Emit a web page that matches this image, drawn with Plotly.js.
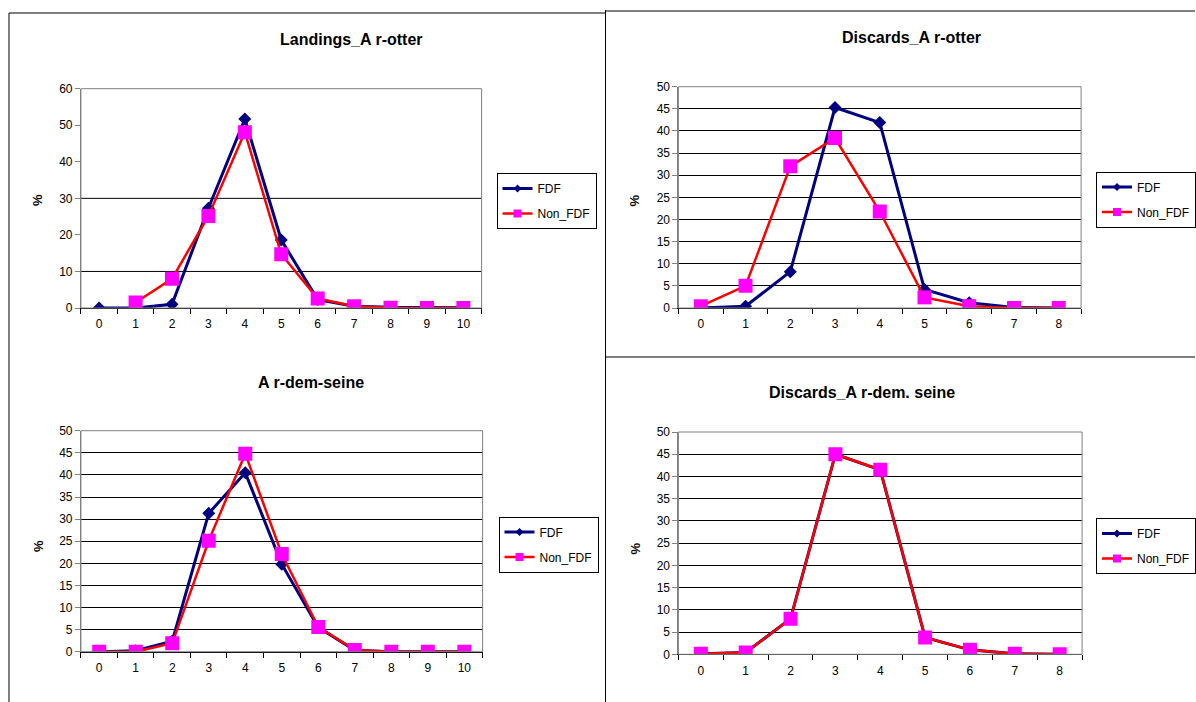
<!DOCTYPE html>
<html>
<head>
<meta charset="utf-8">
<script src="https://cdn.plot.ly/plotly-3.0.1.min.js"></script>
<style>html,body{margin:0;padding:0;background:#fff;}#chart{width:1196px;height:702px;}</style>
</head>
<body>
<div id="chart"></div>
<script>
// ---- data ----
const ages10 = ['0','1','2','3','4','5','6','7','8','9','10'];
const ages8 = ['0','1','2','3','4','5','6','7','8'];
const seriesNames = ['FDF', 'Non_FDF'];
const titles = ['Landings_A r-otter', 'Discards_A r-otter', 'A r-dem-seine', 'Discards_A r-dem. seine'];

const landOtterFDF = [0, 0, 1, 27.3, 51.7, 18.6, 2.3, 0.5, 0.2, 0.1, 0.1];
const landOtterNon = [null, 1.5, 8.0, 25.2, 48.1, 14.7, 2.6, 0.5, 0.1, 0, 0];
const discOtterFDF = [0, 0.4, 8.2, 45.3, 41.9, 4.2, 1.2, 0.1, 0];
const discOtterNon = [0.4, 5.0, 32.0, 38.4, 21.8, 2.4, 0.4, 0, 0];
const seineFDF = [0, 0.2, 2.4, 31.3, 40.5, 19.8, 5.5, 0.3, 0, 0, 0];
const seineNon = [0, 0, 1.9, 25.1, 44.8, 22.1, 5.6, 0.4, 0, 0, 0];
const discSeineFDF = [0.1, 0.4, 8.0, 45.0, 41.5, 3.8, 1.0, 0.1, 0];
const discSeineNon = [0.1, 0.4, 8.0, 45.0, 41.5, 3.8, 1.0, 0.1, 0];

const yMax = [60, 50, 50, 50];
const yStep = [10, 5, 5, 5];
const landGrid = [10, 30]; // only gridlines visible in the landings panel

// ---- layout helpers (pixel geometry) ----
const W = 1196, H = 702;
const px = v => v / W;
const py = v => 1 - v / H;

const panels = [
  {cats: ages10, fdf: landOtterFDF, non: landOtterNon, L: 81, R: 482, T: 88.7, B: 308,
   title: [352, 40], pct: [38, 200], leg: [496.5, 173]},
  {cats: ages8, fdf: discOtterFDF, non: discOtterNon, L: 679, R: 1082, T: 86.7, B: 308,
   title: [912, 37.5], pct: [636, 200], leg: [1097, 171.5]},
  {cats: ages10, fdf: seineFDF, non: seineNon, L: 81, R: 483, T: 430.7, B: 651.7,
   title: [311, 382.5], pct: [38, 546], leg: [498.5, 516.5]},
  {cats: ages8, fdf: discSeineFDF, non: discSeineNon, L: 679, R: 1083, T: 432, B: 654.3,
   title: [863, 392.5], pct: [636, 548], leg: [1097, 518]}
];

const FONT = 'Liberation Sans, Arial, sans-serif';
const STY = [
  {line: {color: '#000080', width: 3}, marker: {symbol: 'diamond', size: 10, color: '#000080'}, legMarker: 6},
  {line: {color: '#FF0000', width: 2.5}, marker: {symbol: 'square', size: 14, color: '#FF00FF'}, legMarker: 8}
];
const traces = [];
const layout = {
  width: W, height: H,
  margin: {l: 0, r: 0, t: 0, b: 0},
  paper_bgcolor: '#fff', plot_bgcolor: '#fff',
  font: {family: FONT, size: 12, color: '#000'},
  showlegend: true,
  annotations: [], shapes: []
};

panels.forEach((p, i) => {
  const n = i + 1;
  const xa = n === 1 ? 'x' : 'x' + n;
  const ya = n === 1 ? 'y' : 'y' + n;
  const legName = n === 1 ? 'legend' : 'legend' + n;
  [p.fdf, p.non].forEach((vals, s) => {
    traces.push({
      type: 'scatter', mode: 'lines+markers', name: seriesNames[s],
      x: p.cats, y: vals, xaxis: xa, yaxis: ya, showlegend: false,
      line: STY[s].line, marker: STY[s].marker,
      connectgaps: false, hoverinfo: 'x+y+name'
    });
  });
  // legend entries (smaller legend symbols, as in the original)
  [0, 1].forEach(s => {
    traces.push({
      type: 'scatter', mode: 'lines+markers', name: seriesNames[s],
      x: [null], y: [null], xaxis: xa, yaxis: ya, legend: legName, legendgroup: 'g' + s + '_' + n,
      showlegend: true, line: STY[s].line,
      marker: {symbol: STY[s].marker.symbol, size: STY[s].legMarker, color: STY[s].marker.color},
      hoverinfo: 'skip'
    });
  });
  const xk = n === 1 ? 'xaxis' : 'xaxis' + n;
  const yk = n === 1 ? 'yaxis' : 'yaxis' + n;
  layout[xk] = {
    domain: [px(p.L), px(p.R)], anchor: ya, type: 'category', categoryorder: 'array', categoryarray: p.cats,
    range: [-0.5, p.cats.length - 0.5],
    tickson: 'boundaries', ticks: 'outside', ticklen: 5, tickcolor: '#000',
    ticklabelstandoff: 5,
    showline: true, linecolor: '#000', linewidth: 1, showgrid: false, zeroline: false,
    tickfont: {family: FONT, size: 12, color: '#000'}, fixedrange: true
  };
  layout[yk] = {
    domain: [py(p.B), py(p.T)], anchor: xa, range: [0, yMax[i]], dtick: yStep[i], tick0: 0,
    ticks: 'outside', ticklen: 5, tickcolor: '#808080',
    showline: true, linecolor: '#808080', linewidth: 1,
    showgrid: i !== 0, gridcolor: '#000', gridwidth: 1, zeroline: false,
    tickfont: {family: FONT, size: 12, color: '#000'}, fixedrange: true
  };
  layout[legName] = {
    x: px(p.leg[0]), y: py(p.leg[1]), xanchor: 'left', yanchor: 'top',
    bgcolor: '#fff', bordercolor: '#000', borderwidth: 1,
    font: {family: FONT, size: 12, color: '#000'},
    traceorder: 'grouped', tracegroupgap: 6, itemclick: false, itemdoubleclick: false
  };
  layout.annotations.push({
    xref: 'paper', yref: 'paper', x: px(p.title[0]), y: py(p.title[1]),
    xanchor: 'center', yanchor: 'middle', showarrow: false,
    text: '<b>' + titles[i] + '</b>', font: {family: FONT, size: 16, color: '#000'}
  });
  layout.annotations.push({
    xref: 'paper', yref: 'paper', x: px(p.pct[0]), y: py(p.pct[1]),
    xanchor: 'center', yanchor: 'middle', showarrow: false, textangle: -90,
    text: '<b>%</b>', font: {family: FONT, size: 13, color: '#000'}
  });
  // plot-area border (grey)
  layout.shapes.push({
    type: 'rect', xref: xa + ' domain', yref: ya + ' domain', x0: 0, x1: 1, y0: 0, y1: 1,
    line: {color: '#808080', width: 1}, fillcolor: 'rgba(0,0,0,0)'
  });
});

// selective gridlines for the landings panel
landGrid.forEach(g => {
  layout.shapes.push({
    type: 'line', xref: 'x domain', yref: 'y', x0: 0, x1: 1, y0: g, y1: g,
    line: {color: '#000', width: 1}, layer: 'below'
  });
});

// chart frames (Excel chart-object borders)
const frame = [
  [9, 13, 9, 702], [9, 13, 606, 13],
  [606, 11, 1196, 11], [606, 10, 606, 702],
  [606, 357, 1196, 357]
];
frame.forEach(f => {
  layout.shapes.push({
    type: 'line', xref: 'paper', yref: 'paper',
    x0: px(f[0]), y0: py(f[1]), x1: px(f[2]), y1: py(f[3]),
    line: {color: '#000', width: 1}
  });
});

Plotly.newPlot('chart', traces, layout, {displayModeBar: false, staticPlot: true});
</script>
</body>
</html>
